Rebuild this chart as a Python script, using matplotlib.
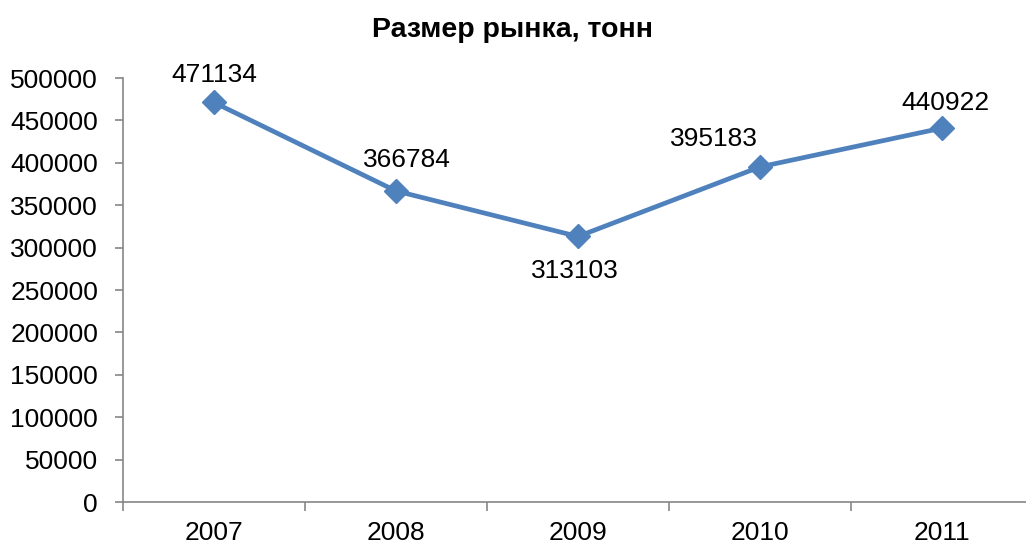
import matplotlib
matplotlib.use("Agg")
import matplotlib.pyplot as plt

years = ["2007", "2008", "2009", "2010", "2011"]
values = [471134, 366784, 313103, 395183, 440922]
yticks = list(range(0, 500001, 50000))
label_offsets = [(0, 27), (11, 31), (-3, -35), (-46, 28), (3, 25)]

plt.rcParams['font.family'] = ['Liberation Sans', 'DejaVu Sans']

fig = plt.figure(figsize=(10.26, 5.45), dpi=100)
W, H = 1026, 545
left, right = 123, 1033
top, bottom = 78, 502
ax = fig.add_axes([left / W, 1 - bottom / H, (right - left) / W, (bottom - top) / H])

x = list(range(len(years)))
ax.plot(x, values, color='#4F81BD', linewidth=3.4, marker='D', markersize=12,
        markerfacecolor='#4F81BD', markeredgecolor='#4F81BD', clip_on=False, zorder=3)

for xi, v, (dx, dy) in zip(x, values, label_offsets):
    ax.annotate(str(v), (xi, v), xytext=(dx, dy), textcoords='offset pixels',
                ha='center', va='center', fontsize=19, color='black')

ax.set_xlim(-0.5, len(years) - 0.5)
ax.set_ylim(0, 500000)
ax.set_yticks(yticks)
ax.set_yticklabels([str(t) for t in yticks], fontsize=19)
ax.set_xticks(x)
ax.set_xticklabels(years, fontsize=19)
ax.set_xticks([i + 0.5 for i in range(-1, len(years))], minor=True)
ax.tick_params(axis='x', which='major', length=0, pad=14)
ax.tick_params(axis='x', which='minor', length=6.5, width=1.2, color='#868686')
ax.tick_params(axis='y', length=6, width=1.2, color='#868686', pad=12)

for s in ['top', 'right']:
    ax.spines[s].set_visible(False)
for s in ['left', 'bottom']:
    ax.spines[s].set_color('#868686')
    ax.spines[s].set_linewidth(1.2)

fig.text(0.5, 1 - 30 / H, "Размер рынка, тонн", ha='center', va='center',
         fontsize=20.5, fontweight='bold')

fig.savefig("out.png", dpi=100)
